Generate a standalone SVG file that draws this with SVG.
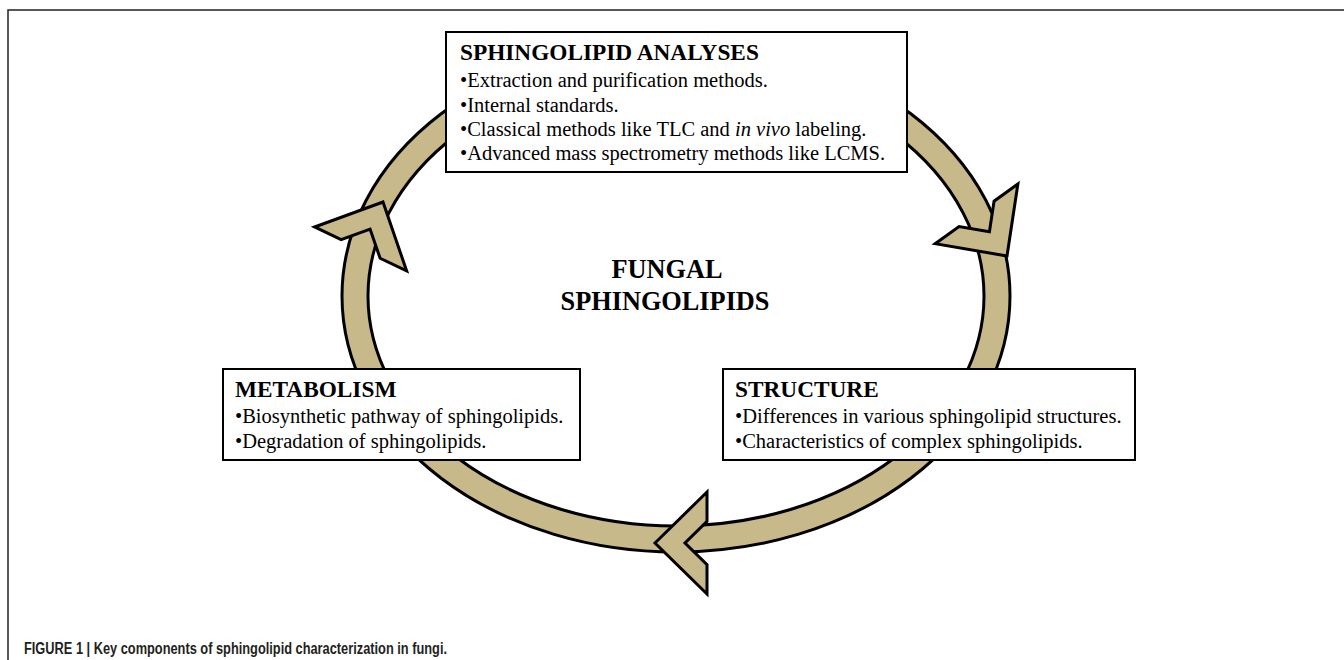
<svg xmlns="http://www.w3.org/2000/svg" width="1344" height="660" viewBox="0 0 1344 660">
<defs>
<style>
.frame{fill:none;stroke:#222;stroke-width:1.5}
.ringo{fill:none;stroke:#000;stroke-width:29}
.ringi{fill:none;stroke:#C8B98A;stroke-width:23}
.head{fill:#C8B98A;stroke:#000;stroke-width:3;stroke-linejoin:miter}
.box{fill:#fff;stroke:#000;stroke-width:2}
.t{font-family:"Liberation Serif","Times New Roman",serif;font-size:20.5px;fill:#000}
.h{font-weight:bold;font-size:23.3px}
.c{font-family:"Liberation Serif","Times New Roman",serif;font-weight:bold;font-size:26.3px;text-anchor:middle;fill:#000}
.cap{font-family:"Liberation Sans",Arial,sans-serif;font-weight:bold;font-size:16px;fill:#231f20}
</style>
<path id="chev" d="M0,0 L52,-51 L52,-21.6 L30,0 L52,21.6 L52,51 Z"/>
</defs>
<rect width="1344" height="660" fill="#fff"/>
<path class="frame" d="M8,660 V10 H1344"/>
<g id="connectors">
<ellipse class="ringo" cx="676" cy="296" rx="321" ry="243"/>
<ellipse class="ringi" cx="676" cy="296" rx="321" ry="243"/>
<use href="#chev" class="head" transform="translate(1007,256) rotate(-125.85)"/>
<use href="#chev" class="head" transform="translate(655,543)"/>
<use href="#chev" class="head" transform="translate(383,202) rotate(115.5)"/>
</g>
<g id="analyses">
<rect class="box" x="446" y="32" width="461" height="140"/>
<text class="t h" x="460" y="60">SPHINGOLIPID ANALYSES</text>
<text class="t" x="460" y="87">•Extraction and purification methods.</text>
<text class="t" x="460" y="111.5">•Internal standards.</text>
<text class="t" x="460" y="135.5">•Classical methods like TLC and <tspan font-style="italic">in vivo</tspan> labeling.</text>
<text class="t" x="460" y="160">•Advanced mass spectrometry methods like LCMS.</text>
</g>
<g id="center">
<text class="c" x="667" y="278">FUNGAL</text>
<text class="c" x="665" y="310">SPHINGOLIPIDS</text>
</g>
<g id="metabolism">
<rect class="box" x="223" y="369" width="357" height="91"/>
<text class="t h" x="235" y="397">METABOLISM</text>
<text class="t" x="235" y="423">•Biosynthetic pathway of sphingolipids.</text>
<text class="t" x="235" y="448">•Degradation of sphingolipids.</text>
</g>
<g id="structure">
<rect class="box" x="723" y="369" width="412" height="91"/>
<text class="t h" x="735" y="397">STRUCTURE</text>
<text class="t" x="735" y="423">•Differences in various sphingolipid structures.</text>
<text class="t" x="735" y="448">•Characteristics of complex sphingolipids.</text>
</g>
<text class="cap" x="24" y="654" textLength="423" lengthAdjust="spacingAndGlyphs">FIGURE 1 | Key components of sphingolipid characterization in fungi.</text>
</svg>
